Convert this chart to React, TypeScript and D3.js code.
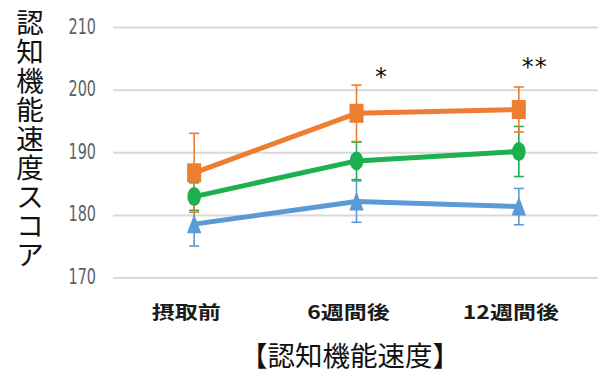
import React from "react";
import * as d3 from "d3";

// Measurement points
const categories = ["摂取前", "6週間後", "12週間後"];

// Mean scores per group
const orangeMean = [186.8, 196.3, 196.9];
const greenMean = [183.0, 188.7, 190.2];
const blueMean = [178.6, 182.2, 181.4];

// Error bar half-widths
const orangeErr = [6.3, 4.5, 3.6];
const greenErr = [2.2, 3.0, 4.0];
const blueErr = [3.5, 3.3, 2.9];

const yTicks = [170, 180, 190, 200, 210];

// Significance marks per category
const significance = ["", "*", "**"];

const yTitleChars = "認知機能速度スコア".split("");
const xTitle = "【認知機能速度】";

type Series = {
  key: string;
  color: string;
  mean: number[];
  err: number[];
  marker: "square" | "circle" | "triangle";
};

const series: Series[] = [
  { key: "blue", color: "#5B9BD5", mean: blueMean, err: blueErr, marker: "triangle" },
  { key: "green", color: "#1DAF50", mean: greenMean, err: greenErr, marker: "circle" },
  { key: "orange", color: "#ED7D31", mean: orangeMean, err: orangeErr, marker: "square" },
];

export default function App() {
  const width = 601;
  const height = 373;

  const x = d3.scalePoint<string>().domain(categories).range([113, 600]).padding(0.5);
  const y = d3.scaleLinear().domain([170, 210]).range([278, 27.5]);

  const line = d3
    .line<number>()
    .x((_, i) => x(categories[i]) as number)
    .y((d) => y(d));

  const capW = 5;

  const renderMarker = (s: Series, cx: number, cy: number, k: string) => {
    if (s.marker === "square") {
      return <rect key={k} x={cx - 7} y={cy - 9.5} width={14} height={19} fill={s.color} />;
    }
    if (s.marker === "circle") {
      return <ellipse key={k} cx={cx} cy={cy} rx={6.8} ry={9.5} fill={s.color} />;
    }
    const path = `M${cx},${cy - 10}L${cx + 7.2},${cy + 9}L${cx - 7.2},${cy + 9}Z`;
    return <path key={k} d={path} fill={s.color} />;
  };

  return (
    <svg
      width={width}
      height={height}
      style={{ position: "absolute", left: 0, top: 0, background: "#fff" }}
      fontFamily="'Noto Sans CJK JP', 'Noto Sans', sans-serif"
    >
      {/* gridlines */}
      {yTicks.map((t) => (
        <line key={`g${t}`} x1={113} x2={598} y1={y(t)} y2={y(t)} stroke="#d9d9d9" strokeWidth={2} />
      ))}

      {/* y tick labels */}
      {yTicks.map((t) => (
        <text
          key={`t${t}`}
          transform={`translate(96,${y(t) + 6}) scale(1,1.28)`}
          textAnchor="end"
          fontFamily="'Liberation Sans Narrow', 'DejaVu Sans Condensed', sans-serif"
          fontSize={16}
          fill="#5f5f68"
        >
          {t}
        </text>
      ))}

      {/* error bars */}
      {series.map((s) =>
        s.mean.map((m, i) => {
          const cx = x(categories[i]) as number;
          const top = y(m + s.err[i]);
          const bot = y(m - s.err[i]);
          return (
            <g key={`e${s.key}${i}`} stroke={s.color} strokeWidth={1.6}>
              <line x1={cx} x2={cx} y1={top} y2={bot} />
              <line x1={cx - capW} x2={cx + capW} y1={top} y2={top} />
              <line x1={cx - capW} x2={cx + capW} y1={bot} y2={bot} />
            </g>
          );
        })
      )}

      {/* lines */}
      {series.map((s) => (
        <path key={`l${s.key}`} d={line(s.mean) ?? ""} fill="none" stroke={s.color} strokeWidth={5} strokeLinejoin="round" />
      ))}

      {/* markers */}
      {series.map((s) =>
        s.mean.map((m, i) => renderMarker(s, x(categories[i]) as number, y(m), `m${s.key}${i}`))
      )}

      {/* significance asterisks */}
      {significance.map((sig, i) =>
        sig ? (
          <text
            key={`s${i}`}
            x={(x(categories[i]) as number) + (sig.length === 1 ? 25 : 16)}
            y={y(orangeMean[i] + orangeErr[i]) - (sig.length === 1 ? 0 : 12)}
            textAnchor="middle"
            fontFamily="'DejaVu Sans', sans-serif"
            fontSize={24}
            letterSpacing={1}
            fill="#111"
          >
            {sig}
          </text>
        ) : null
      )}

      {/* x category labels */}
      {categories.map((c) => (
        <text
          key={`c${c}`}
          transform={`translate(${(x(c) as number) - 8},${319}) scale(1,0.8)`}
          textAnchor="middle"
          fontSize={23}
          fontWeight={700}
          fill="#1a1a1a"
        >
          {c}
        </text>
      ))}

      {/* y axis title, one glyph per row */}
      {yTitleChars.map((ch, i) => (
        <text
          key={`y${i}`}
          x={30}
          y={21 + i * 29}
          textAnchor="middle"
          dominantBaseline="central"
          fontSize={27.5}
          fill="#111"
        >
          {ch}
        </text>
      ))}

      {/* x axis title */}
      <text x={350} y={366} textAnchor="middle" fontSize={27.5} fill="#111">
        {xTitle}
      </text>
    </svg>
  );
}
